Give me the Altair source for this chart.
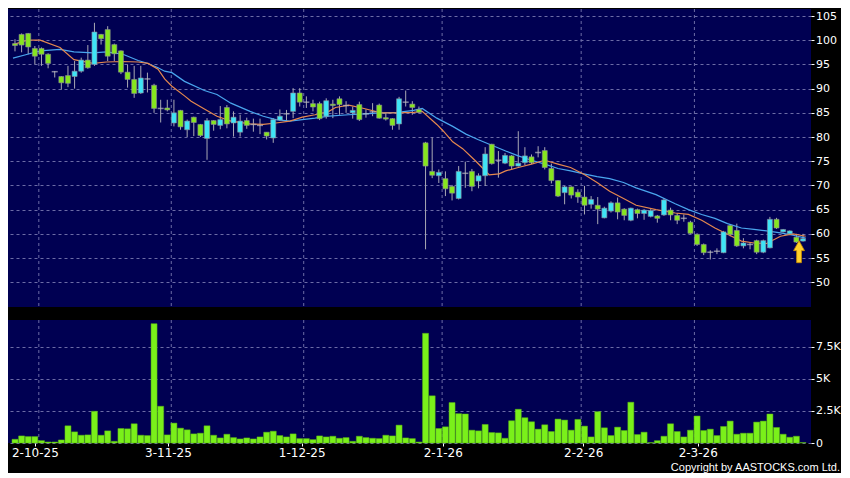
import altair as alt
import pandas as pd

# ---------------- data ----------------
opens = [99.3, 101.2, 101.4, 98.3, 98.3, 97.1, 93.5, 92.5, 92.7, 92.5,
         93.6, 95.9, 95.0, 101.2, 102.2, 99.1, 97.8, 93.4, 91.9, 89.1,
         92.0, 90.7, 85.9, 86.0, 82.9, 85.5, 81.5, 84.1, 82.6, 79.7,
         83.4, 82.4, 86.1, 82.9, 81.0, 83.4, 82.6, 82.4, 81.0, 79.8,
         83.5, 84.8, 85.3, 89.1, 87.2, 86.9, 86.9, 84.3, 86.8, 87.9,
         86.5, 85.0, 86.7, 84.8, 85.2, 86.6, 84.0, 83.8, 82.7, 87.2,
         86.8, 85.7, 78.8, 72.9, 72.0, 71.4, 69.8, 67.3, 72.5, 72.9,
         70.9, 72.0, 78.5, 75.2, 74.6, 76.1, 74.0, 74.7, 75.9, 76.8,
         77.2, 73.5, 71.0, 68.5, 69.7, 68.6, 67.6, 66.1, 65.9, 63.3,
         64.7, 66.4, 65.1, 62.8, 65.0, 64.2, 63.6, 63.7, 63.9, 64.9,
         63.8, 63.2, 62.4, 59.9, 57.8, 56.2, 56.4, 56.1, 61.7, 60.7,
         57.5, 57.8, 58.6, 56.2, 57.1, 63.0, 60.4, 60.0, 59.3, 58.5]
highs = [100.2, 101.4, 101.5, 98.8, 98.5, 97.3, 93.6, 92.6, 94.7, 95.7,
         96.4, 99.0, 103.6, 101.3, 102.9, 99.3, 97.9, 95.0, 94.7, 94.7,
         93.3, 91.0, 87.7, 87.7, 87.7, 85.6, 83.6, 84.2, 82.7, 83.9,
         83.5, 86.4, 86.6, 85.3, 84.6, 84.0, 83.8, 83.8, 81.0, 83.9,
         85.7, 85.6, 90.1, 90.1, 88.4, 87.7, 87.3, 88.0, 87.7, 88.4,
         87.4, 86.3, 87.3, 85.7, 87.0, 86.9, 85.0, 83.9, 88.3, 89.6,
         87.4, 86.3, 79.0, 79.9, 73.3, 72.9, 70.1, 74.0, 74.9, 73.4,
         72.5, 77.9, 78.6, 77.1, 76.7, 76.3, 81.2, 77.9, 76.4, 78.1,
         77.9, 74.5, 71.1, 69.9, 69.8, 69.2, 69.9, 67.8, 67.6, 65.6,
         66.7, 67.5, 65.3, 65.4, 65.2, 65.1, 65.1, 63.9, 67.4, 65.4,
         64.3, 64.0, 62.7, 60.1, 58.0, 56.6, 57.0, 60.6, 61.9, 62.1,
         59.1, 58.3, 58.8, 58.8, 63.5, 63.3, 61.0, 60.7, 60.0, 60.0]
lows = [97.7, 97.5, 97.1, 95.0, 94.7, 94.2, 92.3, 89.8, 90.3, 90.0,
        93.3, 94.1, 94.7, 99.1, 95.7, 95.7, 93.0, 90.2, 88.1, 88.9,
        89.2, 85.0, 83.0, 85.3, 82.2, 81.5, 80.0, 80.2, 80.0, 75.3,
        81.3, 81.6, 81.8, 80.1, 80.1, 81.7, 81.1, 80.6, 79.5, 78.8,
        83.3, 83.3, 83.9, 86.3, 86.0, 85.3, 83.5, 83.8, 83.9, 84.6,
        85.0, 83.8, 83.3, 84.0, 84.3, 83.8, 83.4, 81.5, 81.5, 86.3,
        84.6, 84.9, 56.8, 71.5, 70.5, 67.8, 66.9, 67.1, 69.5, 68.8,
        69.4, 69.9, 74.3, 71.6, 74.4, 73.3, 73.9, 74.2, 74.4, 75.8,
        73.3, 70.4, 67.6, 66.1, 67.3, 66.4, 64.0, 65.2, 62.0, 63.2,
        64.4, 63.0, 62.8, 62.6, 63.2, 62.9, 63.4, 62.3, 63.7, 62.8,
        62.0, 62.5, 60.0, 57.5, 55.6, 54.7, 55.8, 56.0, 59.5, 57.3,
        57.0, 56.8, 55.8, 56.0, 57.0, 61.0, 60.3, 59.8, 58.1, 58.4]
closes = [98.9, 99.0, 98.6, 96.7, 97.1, 95.2, 93.5, 91.2, 91.1, 93.6,
          95.9, 94.3, 101.7, 100.3, 96.7, 97.2, 93.4, 91.9, 89.0, 92.2,
          92.0, 85.9, 85.9, 85.6, 85.0, 82.1, 83.3, 83.0, 80.3, 83.4,
          82.6, 83.6, 82.7, 84.1, 83.3, 82.4, 82.6, 82.4, 80.2, 83.6,
          84.3, 84.8, 89.1, 87.2, 87.2, 86.2, 83.8, 87.5, 86.5, 86.7,
          86.5, 85.5, 83.6, 84.8, 85.2, 83.9, 83.7, 82.4, 87.9, 87.2,
          86.1, 85.1, 74.0, 72.1, 72.7, 69.3, 68.4, 72.9, 72.5, 69.8,
          72.0, 76.5, 74.5, 75.2, 76.2, 74.0, 74.6, 76.1, 74.7, 76.8,
          73.7, 71.0, 67.8, 69.7, 68.0, 67.6, 65.9, 67.1, 65.1, 65.3,
          66.4, 64.5, 63.8, 65.3, 64.2, 64.9, 64.8, 63.2, 67.0, 63.9,
          62.8, 63.2, 60.1, 57.8, 56.1, 56.2, 56.4, 60.4, 59.9, 57.5,
          58.1, 57.8, 56.2, 58.6, 63.0, 61.2, 60.9, 60.6, 58.3, 59.0]
volumes = [289, 552, 500, 500, 184, 79, 79, 237, 1341, 868,
           605, 631, 2472, 605, 947, 131, 1131, 1105, 1499, 605,
           579, 9310, 2867, 631, 1552, 1157, 1026, 710, 763, 1341,
           605, 395, 684, 421, 316, 395, 316, 473, 842, 920,
           579, 473, 710, 342, 342, 263, 552, 473, 526, 368,
           421, 131, 526, 421, 368, 342, 605, 552, 1394, 395,
           342, 79, 8560, 3682, 1131, 1262, 3156, 2288, 2262, 999,
           947, 1447, 815, 789, 368, 1736, 2630, 1973, 1657, 1078,
           1420, 894, 1867, 1788, 999, 1841, 1315, 473, 2446, 1184,
           579, 1236, 973, 3182, 658, 842, 30, 184, 526, 1499,
           894, 473, 999, 2104, 973, 1078, 579, 1289, 1710, 684,
           763, 763, 1631, 1710, 2262, 1210, 684, 447, 526, 30]

ma_fast_idx = [-0.3, 1.9, 3.8, 6.8, 8.9, 11.8, 13.8, 16.3, 18.6, 20.1, 21.6, 22.6, 23.7,
               25.6, 26.6, 28.6, 30.5, 32.6, 35.5, 37.5, 39.4, 41.5, 43.4, 45.3, 47.4,
               48.4, 50.4, 52.7, 55.3, 57.8, 60.2, 61.5, 63.7, 64.7, 66.1, 67.6, 69.6,
               71.6, 73.1, 74.1, 76.0, 78.0, 80.0, 82.0, 83.9, 85.9, 87.9, 89.8, 91.9,
               93.8, 96.8, 99.7, 101.7, 103.7, 105.7, 107.6, 109.7, 111.6, 113.5, 115.6,
               117.5, 119.4]
ma_fast = [99.1, 100.0, 100.0, 98.5, 96.0, 95.2, 95.5, 95.6, 95.5, 95.2, 94.0, 92.0, 90.5,
           88.5, 87.4, 85.8, 84.3, 83.3, 82.7, 82.6, 82.9, 83.3, 84.1, 84.6, 85.3,
           86.1, 86.6, 85.9, 85.0, 85.0, 85.1, 85.3, 82.6, 81.2, 79.0, 77.6, 75.0,
           72.2, 72.4, 73.0, 73.7, 74.4, 75.2, 74.4, 73.7, 72.3, 70.6, 68.8, 67.3,
           65.9, 65.0, 64.3, 64.0, 62.8, 61.2, 59.9, 58.5, 58.1, 58.0, 59.5,
           60.0, 59.5]
ma_slow_idx = [-0.3, 1.9, 3.8, 6.8, 8.9, 11.8, 13.8, 16.3, 18.6, 20.1, 21.6, 22.6, 23.7,
               25.6, 28.6, 30.5, 32.6, 35.5, 37.5, 39.4, 41.5, 43.4, 45.3, 47.4, 50.4,
               52.7, 55.3, 57.8, 60.2, 61.5, 63.7, 66.1, 68.1, 69.9, 72.0, 74.1, 76.0,
               78.0, 80.0, 82.0, 83.9, 85.9, 87.9, 89.8, 91.9, 93.8, 96.8, 99.7, 101.7,
               103.7, 105.7, 107.6, 109.7, 111.6, 113.5, 115.6, 117.5, 119.4]
ma_slow = [96.3, 97.1, 97.8, 98.1, 97.6, 97.4, 97.6, 97.1, 95.8, 95.2, 94.3, 93.6, 93.3,
           91.5, 89.6, 88.8, 87.0, 85.3, 84.3, 83.6, 83.3, 83.6, 83.9, 84.3, 84.6,
           84.8, 85.0, 85.1, 85.5, 85.9, 83.9, 82.2, 80.6, 79.5, 78.3, 77.1, 76.1,
           75.2, 74.4, 73.5, 73.0, 72.4, 71.8, 71.4, 70.6, 69.5, 68.1, 66.2, 65.0,
           64.0, 63.2, 62.1, 61.2, 60.9, 60.6, 60.2, 59.7, 59.1]

date_tick_idx = [3.0, 23.1, 43.3, 64.6, 85.8, 103.1]
date_labels = ["2-10-25", "3-11-25", "1-12-25", "2-1-26", "2-2-26", "2-3-26"]
grid_idx = [3.6, 23.6, 43.6, 64.5, 85.5, 102.6]
price_ticks = [50, 55, 60, 65, 70, 75, 80, 85, 90, 95, 100, 105]
vol_ticks = [0, 2500, 5000, 7500]
vol_labels = ["0", "2.5K", "5K", "7.5K"]
arrow_idx = [118.4]
arrow_price = [56.3]
copyright_text = "Copyright by AASTOCKS.com Ltd."

# ---------------- tables ----------------
n = len(opens)
candles = pd.DataFrame({
    "i": list(range(n)), "open": opens, "high": highs, "low": lows,
    "close": closes, "vol": volumes,
})
candles["dir"] = ["up" if c > o else ("down" if c < o else "flat")
                  for o, c in zip(opens, closes)]
fast_df = pd.DataFrame({"i": ma_fast_idx, "v": ma_fast})
slow_df = pd.DataFrame({"i": ma_slow_idx, "v": ma_slow})
grid_df = pd.DataFrame({"i": grid_idx})
arrow_df = pd.DataFrame({"i": arrow_idx, "p": arrow_price})

FONT = "DejaVu Sans"
GRID = "#6c6ca6"
CYAN = "#3fe4f6"
LIME = "#86e61e"
W = 803

xscale = alt.Scale(domain=[-0.3, 119.45], nice=False, zero=False)
pscale = alt.Scale(domain=[44.88, 106.45], nice=False, zero=False)
vscale = alt.Scale(domain=[0, 9600], nice=False)

def chain(values, labels):
    expr = "'" + labels[-1] + "'"
    for k in range(len(values) - 2, -1, -1):
        mid = (values[k] + values[k + 1]) / 2
        expr = f"datum.value < {mid} ? '{labels[k]}' : " + expr
    return expr

yaxis_price = alt.Axis(orient="right", values=price_ticks, title=None, domain=False,
                       grid=True, gridColor=GRID, gridDash=[3, 3], gridWidth=1,
                       labelColor="white", tickColor="white", tickSize=3,
                       labelFont=FONT, labelFontSize=11, labelPadding=1.5,
                       labelOverlap=False, labelBound=False)

x_none = alt.X("i:Q", scale=xscale, axis=None)

def py(field):
    return alt.Y(field, scale=pscale, axis=yaxis_price)

vgrid_p = alt.Chart(grid_df).mark_rule(color=GRID, strokeDash=[3, 3], strokeWidth=1).encode(x=x_none)

base = alt.Chart(candles)
wicks = base.mark_rule(color="#a9a9b4", strokeWidth=1).encode(
    x=x_none, y=py("low:Q"), y2="high:Q")
bodies = base.transform_filter("datum.dir != 'flat'").mark_bar(
    size=5, stroke="#8c8c98", strokeWidth=0.6).encode(
    x=x_none, y=py("open:Q"), y2="close:Q",
    color=alt.Color("dir:N", scale=alt.Scale(domain=["up", "down"], range=[CYAN, LIME]),
                    legend=None),
)
dojis = base.transform_filter("datum.dir == 'flat'").mark_tick(
    orient="horizontal", size=6, thickness=1.5, color="#b8b8c0").encode(
    x=x_none, y=py("open:Q"))

slow_line = alt.Chart(slow_df).mark_line(color="#4aa6ee", strokeWidth=1.2).encode(
    x=x_none, y=py("v:Q"))
fast_line = alt.Chart(fast_df).mark_line(color="#e5884e", strokeWidth=1.2).encode(
    x=x_none, y=py("v:Q"))

arrow_path = "M0,-1 L0.5,-0.1 L0.22,-0.1 L0.22,1 L-0.22,1 L-0.22,-0.1 L-0.5,-0.1 Z"
arrow = alt.Chart(arrow_df).mark_point(shape=arrow_path, filled=True, size=480,
                                       fill="#ffd02a", stroke="#c88a00", strokeWidth=0.8,
                                       opacity=1).encode(
    x=x_none, y=py("p:Q"))

price = alt.layer(vgrid_p, wicks, slow_line, fast_line, bodies, dojis, arrow).properties(
    width=W, height=298)

# ---------------- volume ----------------
yaxis_vol = alt.Axis(orient="right", values=vol_ticks, title=None, domain=False,
                     grid=True, gridColor=GRID, gridDash=[3, 3], gridWidth=1,
                     labelColor="white", tickColor="white", tickSize=3,
                     labelFont=FONT, labelFontSize=11, labelPadding=1.5,
                     labelOverlap=False, labelBound=False,
                     labelExpr=chain(vol_ticks, vol_labels))
xaxis_vol = alt.Axis(values=date_tick_idx, labelExpr=chain(date_tick_idx, date_labels),
                     title=None, domain=False, grid=False, labelColor="white",
                     tickColor="white", tickSize=3, labelFont=FONT,
                     labelFontSize=12, labelPadding=1, labelFlush=False,
                     labelOverlap=False)

vgrid_v = alt.Chart(grid_df).mark_rule(color=GRID, strokeDash=[3, 3], strokeWidth=1).encode(
    x=alt.X("i:Q", scale=xscale, axis=xaxis_vol))
vbars = base.mark_bar(size=6, color="#7af01a", stroke="#5cb814", strokeWidth=0.5).encode(
    x=alt.X("i:Q", scale=xscale),
    y=alt.Y("vol:Q", scale=vscale, axis=yaxis_vol),
)
copyright = alt.Chart(pd.DataFrame({"t": [copyright_text]})).mark_text(
    align="right", baseline="bottom", color="white", font="Liberation Sans",
    fontSize=11).encode(
    text="t:N", x=alt.value(832), y=alt.value(153))

volume = alt.layer(vgrid_v, vbars, copyright).properties(width=W, height=123)

chart = alt.vconcat(price, volume, spacing=11).properties(
    background="#000000",
    padding={"left": 0, "top": 0, "right": 0, "bottom": 0},
).configure_view(fill="#000052", stroke=None).configure_concat(spacing=11)

chart.save("out.html", embed_options={"renderer": "svg", "actions": False})
